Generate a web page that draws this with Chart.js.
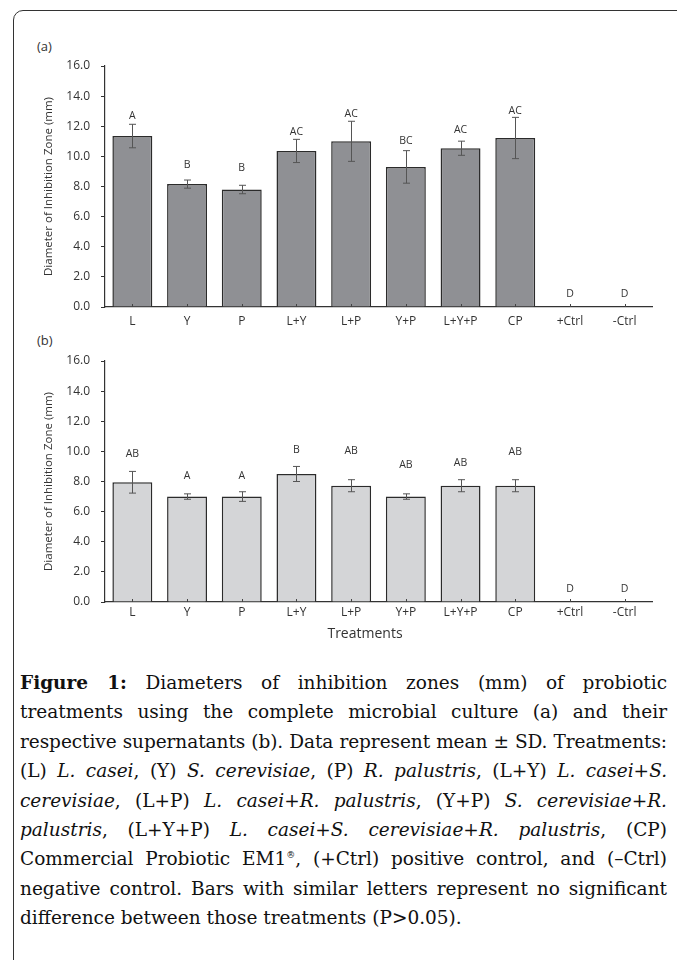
<!DOCTYPE html>
<html>
<head>
<meta charset="utf-8">
<script src="https://cdn.jsdelivr.net/npm/chart.js@4.4.1/dist/chart.umd.min.js"></script>
<style>
  html, body { margin: 0; padding: 0; background: #fff; }
  body { width: 677px; height: 960px; position: relative; overflow: hidden; }
  #frame { position: absolute; left: 13px; top: 10px; width: 720px; height: 1000px;
           border: 1.5px solid #333; border-top-left-radius: 10px; box-sizing: border-box; }
  canvas { position: absolute; left: 0; }
  #cA { top: 40px; }
  #cB { top: 335px; }
  .panel { position: absolute; font-family: "Open Sans", sans-serif; font-size: 13px; color: #333; }
  #xt { position: absolute; left: 300px; width: 130px; text-align: center; top: 623px;
        font-family: "Open Sans", sans-serif; font-size: 14px; color: #333; }
  #cap { position: absolute; left: 20px; top: 668px; width: 647px;
         font-family: "DejaVu Serif", serif; font-size: 18.5px; line-height: 29.4px; color: #111; }
  #cap .ln { white-space: nowrap; text-align: justify; text-align-last: justify; }
  #cap .ln.last, #cap .ln.measure { text-align-last: left; }
  sup { font-size: 9px; vertical-align: 7px; line-height: 0; }
</style>
</head>
<body>
<div id="frame"></div>
<div class="panel" style="left:37px; top:37px;">(a)</div>
<div class="panel" style="left:37px; top:331px;">(b)</div>
<canvas id="cA" width="677" height="300"></canvas>
<canvas id="cB" width="677" height="300"></canvas>
<div id="xt">Treatments</div>
<div id="cap">
  <div class="ln"><span><b>Figure 1:</b> Diameters of inhibition zones (mm) of probiotic</span></div>
  <div class="ln"><span>treatments using the complete microbial culture (a) and their</span></div>
  <div class="ln"><span>respective supernatants (b). Data represent mean ± SD. Treatments:</span></div>
  <div class="ln"><span>(L) <i>L. casei</i>, (Y) <i>S. cerevisiae</i>, (P) <i>R. palustris</i>, (L+Y) <i>L. casei</i>+<i>S.</i></span></div>
  <div class="ln"><span><i>cerevisiae</i>, (L+P) <i>L. casei</i>+<i>R. palustris</i>, (Y+P) <i>S. cerevisiae</i>+<i>R.</i></span></div>
  <div class="ln"><span><i>palustris</i>, (L+Y+P) <i>L. casei</i>+<i>S. cerevisiae</i>+<i>R. palustris</i>, (CP)</span></div>
  <div class="ln"><span>Commercial Probiotic EM1<sup>®</sup>, (+Ctrl) positive control, and (–Ctrl)</span></div>
  <div class="ln"><span>negative control. Bars with similar letters represent no significant</span></div>
  <div class="ln last"><span>difference between those treatments (P&gt;0.05).</span></div>
</div>
<script>
// ---- data ----
const categories = ['L', 'Y', 'P', 'L+Y', 'L+P', 'Y+P', 'L+Y+P', 'CP', '+Ctrl', '-Ctrl'];
const yTicks = [0, 2, 4, 6, 8, 10, 12, 14, 16];

const meansA = [11.35, 8.16, 7.8, 10.36, 11.0, 9.3, 10.54, 11.22, 0, 0];
const sdA = [0.78, 0.27, 0.28, 0.77, 1.33, 1.08, 0.47, 1.37, 0, 0];
const lettersA = ['A', 'B', 'B', 'AC', 'AC', 'BC', 'AC', 'AC', 'D', 'D'];
const letterLevelA = [12.7, 9.4, 9.2, 11.6, 12.8, 11.0, 11.75, 13.0, 0.85, 0.85];

const meansB = [7.95, 7.0, 7.0, 8.5, 7.72, 7.0, 7.72, 7.72, 0, 0];
const sdB = [0.72, 0.18, 0.32, 0.5, 0.4, 0.18, 0.4, 0.4, 0, 0];
const lettersB = ['AB', 'A', 'A', 'B', 'AB', 'AB', 'AB', 'AB', 'D', 'D'];
const letterLevelB = [9.8, 8.37, 8.37, 10.07, 10.0, 9.08, 9.23, 9.95, 0.86, 0.86];

const yTitle = 'Diameter of Inhibition Zone (mm)';

// ---- fit caption lines (shrink letter-spacing when a line is too long) ----
document.querySelectorAll('#cap .ln').forEach(ln => {
  ln.classList.add('measure');
  const sp = ln.firstElementChild;
  const w = sp.getBoundingClientRect().width;
  const n = sp.textContent.length;
  if (w > 645) sp.style.letterSpacing = (-(w - 645) / n).toFixed(3) + 'px';
  ln.classList.remove('measure');
});

// ---- plugin: error bars, letters, x tick marks ----
const extras = {
  id: 'extras',
  afterDatasetsDraw(chart, args, opts) {
    const ctx = chart.ctx;
    const meta = chart.getDatasetMeta(0);
    const ys = chart.scales.y;
    const xs = chart.scales.x;
    ctx.save();
    ctx.strokeStyle = '#444';
    ctx.lineWidth = 1;
    categories.forEach((c, i) => {
      const x = Math.round(xs.getPixelForValue(i)) + 0.5;
      ctx.beginPath();
      ctx.moveTo(x, ys.bottom);
      ctx.lineTo(x, ys.bottom - 3);
      ctx.stroke();
    });
    ctx.strokeStyle = '#555';
    ctx.lineWidth = 1;
    opts.means.forEach((m, i) => {
      const sd = opts.sd[i];
      if (!sd) return;
      const x = Math.round(meta.data[i].x) + 0.5;
      const yt = ys.getPixelForValue(m + sd);
      const yb = ys.getPixelForValue(m - sd);
      ctx.beginPath();
      ctx.moveTo(x, yt); ctx.lineTo(x, yb);
      ctx.moveTo(x - 3.5, yt); ctx.lineTo(x + 3.5, yt);
      ctx.moveTo(x - 3.5, yb); ctx.lineTo(x + 3.5, yb);
      ctx.stroke();
    });
    ctx.fillStyle = '#333';
    ctx.font = '10.5px "Open Sans"';
    ctx.textAlign = 'center';
    ctx.textBaseline = 'middle';
    opts.letters.forEach((t, i) => {
      ctx.fillText(t, meta.data[i].x, ys.getPixelForValue(opts.levels[i]));
    });
    ctx.restore();
  }
};

function makeChart(id, means, sd, letters, levels, fill, xPad) {
  return new Chart(document.getElementById(id), {
    type: 'bar',
    data: {
      labels: categories,
      datasets: [{
        data: means,
        backgroundColor: fill,
        borderColor: '#2b2b2b',
        borderWidth: 1.5,
        barPercentage: 0.73,
        categoryPercentage: 1.0
      }]
    },
    options: {
      responsive: false,
      animation: false,
      devicePixelRatio: 1,
      layout: { padding: { top: 26, right: 25, bottom: 0, left: 0 } },
      plugins: {
        legend: { display: false },
        tooltip: { enabled: false },
        extras: { means, sd, letters, levels }
      },
      scales: {
        x: {
          grid: { display: false, drawTicks: false },
          border: { display: true, color: '#333', width: 1.2 },
          ticks: { padding: xPad, color: '#333', font: { family: 'Open Sans', size: 12 } },
          afterFit: s => { s.height = 33; }
        },
        y: {
          min: 0, max: 16,
          afterBuildTicks: s => { s.ticks = yTicks.map(v => ({ value: v })); },
          ticks: { padding: 11, color: '#333', font: { family: 'Open Sans', size: 12 },
                   callback: v => Number(v).toFixed(1) },
          grid: { drawOnChartArea: false, drawTicks: true, tickLength: 4, color: '#333', lineWidth: 1 },
          border: { display: true, color: '#333', width: 1.2 },
          title: { display: true, text: yTitle, color: '#333',
                   font: { family: 'Open Sans', size: 11.5 }, padding: { top: 42, bottom: 0 } },
          afterFit: s => { s.width = 105; }
        }
      }
    },
    plugins: [extras]
  });
}

makeChart('cA', meansA, sdA, lettersA, letterLevelA, '#8f9094', 7);
makeChart('cB', meansB, sdB, lettersB, letterLevelB, '#d4d5d7', 3);
</script>
</body>
</html>
